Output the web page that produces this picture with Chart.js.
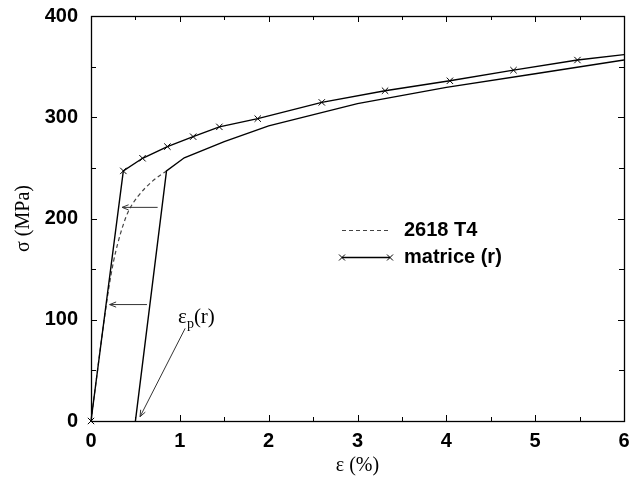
<!DOCTYPE html>
<html>
<head>
<meta charset="utf-8">
<script src="https://cdn.jsdelivr.net/npm/chart.js@4/dist/chart.umd.min.js"></script>
<style>
  html, body { margin: 0; padding: 0; background: #fff; }
  #wrap { width: 635px; height: 479px; position: relative; }
</style>
</head>
<body>
<div id="wrap"><canvas id="c" width="635" height="479"></canvas></div>
<script>
// ---- data ----
const matriceX = [0, 0.364, 0.58, 0.86, 1.15, 1.445, 1.877, 2.598, 3.31, 4.04, 4.756, 5.476, 6.0];
const matriceY = [0, 247, 259.5, 271, 280.8, 290.5, 298.6, 314.7, 326.2, 336, 346.5, 356.5, 361.8];
const matriceMarked = [1,1,1,1,1,1,1,1,1,1,1,1,0];

const t4X = [0, 0.15, 0.2, 0.25, 0.3, 0.36, 0.42, 0.53, 0.68, 0.85];
const t4Y = [0, 101, 131, 156, 175, 193, 207, 222, 236, 247];

const reloadX = [0.5, 0.85, 1.05, 1.5, 2.0, 3.0, 4.0, 5.0, 6.0];
const reloadY = [0, 247, 260, 276, 291.5, 313.5, 329.5, 343, 356.5];

const seriesLabels = ['2618 T4', 'matrice (r)'];
const xTickLabels = ['0', '1', '2', '3', '4', '5', '6'];
const yTickLabels = ['0', '100', '200', '300', '400'];
const xTitle = 'ε (%)';
const yTitle = 'σ (MPa)';

// annotation arrows (data coordinates)
const arrowX0 = [0.75, 0.63, 1.06];
const arrowY0 = [211, 115, 91.5];
const arrowX1 = [0.35, 0.21, 0.552];
const arrowY1 = [211, 115, 4.2];
const noteX = 0.98, noteY = 96.5;
const noteMain = 'ε', noteSub = 'p', noteTail = '(r)';

const toPts = (xs, ys) => xs.map((x, i) => ({ x: x, y: ys[i] }));

const frameTicks = {
  id: 'frameTicks',
  afterDraw(chart) {
    const { ctx, chartArea: a, scales } = chart;
    ctx.save();
    ctx.strokeStyle = '#000';
    ctx.lineWidth = 1;
    // inward ticks
    scales.x.ticks.forEach(t => {
      const px = Math.round(scales.x.getPixelForValue(t.value)) + 0.5;
      const major = Math.abs(t.value - Math.round(t.value)) < 1e-6;
      const L = major ? 6 : 4;
      ctx.beginPath();
      ctx.moveTo(px, a.bottom); ctx.lineTo(px, a.bottom - L);
      ctx.moveTo(px, a.top); ctx.lineTo(px, a.top + L);
      ctx.stroke();
    });
    scales.y.ticks.forEach(t => {
      const py = Math.round(scales.y.getPixelForValue(t.value)) + 0.5;
      const major = t.value % 100 === 0;
      const L = major ? 6 : 5;
      ctx.beginPath();
      ctx.moveTo(a.left, py); ctx.lineTo(a.left + L, py);
      ctx.moveTo(a.right, py); ctx.lineTo(a.right - L, py);
      ctx.stroke();
    });
    ctx.lineWidth = 1.3;
    ctx.strokeRect(Math.round(a.left) + 0.5, Math.round(a.top) + 0.5,
                   Math.round(a.right - a.left), Math.round(a.bottom - a.top));

    // arrows
    ctx.strokeStyle = '#333';
    ctx.lineWidth = 1;
    for (let i = 0; i < arrowX0.length; i++) {
      const x0 = scales.x.getPixelForValue(arrowX0[i]), y0 = scales.y.getPixelForValue(arrowY0[i]);
      const x1 = scales.x.getPixelForValue(arrowX1[i]), y1 = scales.y.getPixelForValue(arrowY1[i]);
      const ang = Math.atan2(y1 - y0, x1 - x0);
      const hl = 7, ha = 0.38;
      ctx.beginPath();
      ctx.moveTo(x0, y0); ctx.lineTo(x1, y1);
      ctx.moveTo(x1 - hl * Math.cos(ang - ha), y1 - hl * Math.sin(ang - ha));
      ctx.lineTo(x1, y1);
      ctx.lineTo(x1 - hl * Math.cos(ang + ha), y1 - hl * Math.sin(ang + ha));
      ctx.stroke();
    }

    // note text
    const nx = scales.x.getPixelForValue(noteX), ny = scales.y.getPixelForValue(noteY);
    ctx.fillStyle = '#000';
    ctx.textBaseline = 'alphabetic';
    ctx.textAlign = 'left';
    ctx.font = '21px "Liberation Serif"';
    ctx.fillText(noteMain, nx, ny);
    let w = ctx.measureText(noteMain).width;
    ctx.font = '14px "Liberation Serif"';
    ctx.fillText(noteSub, nx + w, ny + 5);
    w += ctx.measureText(noteSub).width;
    ctx.font = '21px "Liberation Serif"';
    ctx.fillText(noteTail, nx + w, ny);

    // legend
    const legX0 = 342, legX1 = 390, legTextX = 404, legY = [230, 257];
    ctx.font = 'bold 20px "Liberation Sans"';
    ctx.textBaseline = 'middle';
    chart.data.datasets.filter(d => d.label).forEach((d, k) => {
      const y = legY[k] + 0.5;
      ctx.save();
      ctx.strokeStyle = d.borderColor;
      ctx.lineWidth = d.borderWidth;
      ctx.setLineDash(d.borderDash || []);
      ctx.beginPath(); ctx.moveTo(legX0, y); ctx.lineTo(legX1, y); ctx.stroke();
      ctx.restore();
      if (d.pointStyle === 'crossRot') {
        ctx.save();
        ctx.strokeStyle = '#000'; ctx.lineWidth = 1;
        [legX0, legX1].forEach(px => {
          const r = 3;
          ctx.beginPath();
          ctx.moveTo(px - r, y - r); ctx.lineTo(px + r, y + r);
          ctx.moveTo(px - r, y + r); ctx.lineTo(px + r, y - r);
          ctx.stroke();
        });
        ctx.restore();
      }
      ctx.fillStyle = '#000';
      ctx.fillText(d.label, legTextX, y);
    });
    ctx.restore();
  }
};

new Chart(document.getElementById('c'), {
  type: 'scatter',
  data: {
    datasets: [
      {
        label: seriesLabels[0],
        data: toPts(t4X, t4Y),
        showLine: true,
        borderColor: '#444',
        borderWidth: 1.2,
        borderDash: [4, 3],
        cubicInterpolationMode: 'monotone',
        pointRadius: 0,
        order: 3
      },
      {
        label: seriesLabels[1],
        data: toPts(matriceX, matriceY),
        showLine: true,
        borderColor: '#000',
        borderWidth: 1.4,
        pointStyle: 'crossRot',
        pointRadius: matriceMarked.map(m => m ? 4.5 : 0),
        pointBorderColor: '#000',
        pointBorderWidth: 1,
        clip: false,
        order: 1
      },
      {
        data: toPts(reloadX, reloadY),
        showLine: true,
        borderColor: '#000',
        borderWidth: 1.4,
        pointRadius: 0,
        order: 2
      }
    ]
  },
  options: {
    responsive: false,
    animation: false,
    layout: { padding: { top: 16, right: 11, left: 0, bottom: 0 } },
    plugins: { legend: { display: false }, tooltip: { enabled: false } },
    scales: {
      x: {
        type: 'linear', min: 0, max: 6,
        grid: { display: false, drawTicks: false },
        border: { display: false },
        ticks: {
          stepSize: 0.5, padding: 8, color: '#000', maxRotation: 0, autoSkip: false,
          font: { family: 'Liberation Sans', weight: 'bold', size: 20 },
          callback: v => (Math.abs(v - Math.round(v)) < 1e-6 ? xTickLabels[Math.round(v)] : '')
        },
        title: { display: true, text: xTitle, color: '#000',
                 font: { family: 'Liberation Serif', size: 20 }, padding: { top: 0, bottom: 1 } },
        afterFit: s => { s.height = 58; s.paddingLeft = 0; s.paddingRight = 0; }
      },
      y: {
        type: 'linear', min: 0, max: 400,
        grid: { display: false, drawTicks: false },
        border: { display: false },
        ticks: {
          stepSize: 50, padding: 13, color: '#000', autoSkip: false,
          font: { family: 'Liberation Sans', weight: 'bold', size: 20 },
          callback: v => (v % 100 === 0 ? yTickLabels[v / 100] : '')
        },
        title: { display: true, text: yTitle, color: '#000',
                 font: { family: 'Liberation Serif', size: 20 }, padding: { top: 12, bottom: 0 } },
        afterFit: s => { s.width = 91; s.paddingTop = 0; s.paddingBottom = 0; }
      }
    }
  },
  plugins: [frameTicks]
});
</script>
</body>
</html>
